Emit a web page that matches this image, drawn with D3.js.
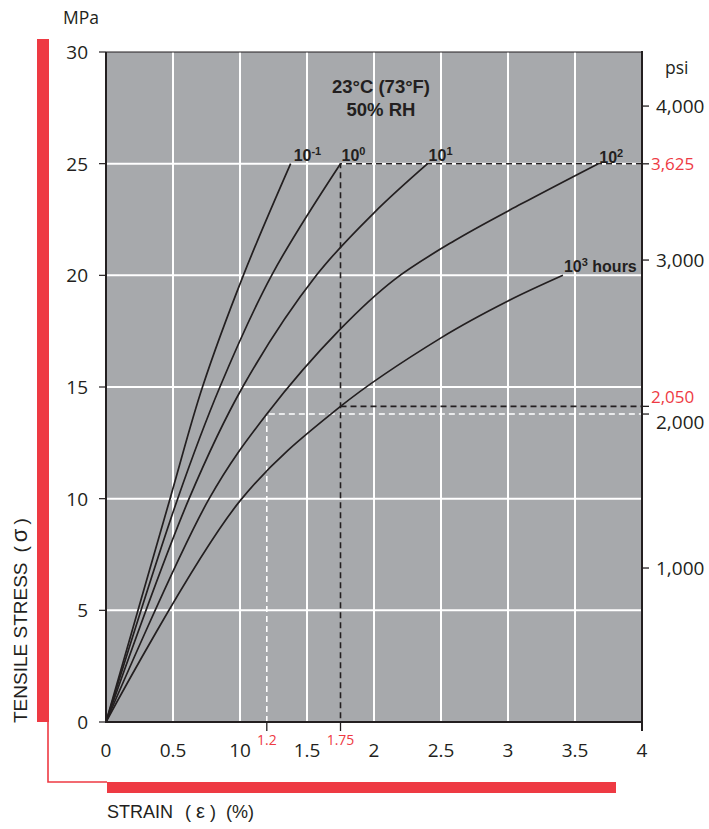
<!DOCTYPE html>
<html>
<head>
<meta charset="utf-8">
<script src="https://cdn.jsdelivr.net/npm/d3@7"></script>
<style>
  html, body { margin: 0; padding: 0; background: #ffffff; }
  svg { display: block; }
</style>
</head>
<body>
<svg id="chart" width="709" height="829"></svg>
<script>
// ---------------- DATA ----------------
const xTicks = [0, 0.5, 1, 1.5, 2, 2.5, 3, 3.5, 4];
const xTickLabels = ["0", "0.5", "10", "1.5", "2", "2.5", "3", "3.5", "4"];
const yTicks = [0, 5, 10, 15, 20, 25, 30];
const psiTicks = [1000, 2000, 3000, 4000];
const psiTickLabels = ["1,000", "2,000", "3,000", "4,000"];
const psiMarks = [3625, 2050];
const psiMarkLabels = ["3,625", "2,050"];
const strainMarks = [1.2, 1.75];
const strainMarkLabels = ["1.2", "1.75"];

// creep curves (strain %, stress MPa)
const strain_1 = [0, 0.478, 0.72, 1.025, 1.378];
const stress_1 = [0, 10, 15, 20, 25];
const strain0 = [0, 0.535, 0.85, 1.236, 1.75];
const stress0 = [0, 10, 15, 20, 25];
const strain1 = [0, 0.62, 1.02, 1.57, 2.0, 2.40];
const stress1 = [0, 10, 15, 20, 22.8, 25];
const strain2 = [0, 0.77, 1.2, 1.75, 2.15, 2.6, 3.1, 3.674];
const stress2 = [0, 10, 13.79, 17.6, 19.8, 21.55, 23.2, 25];
const strain3 = [0, 1.0, 1.75, 2.5, 3.0, 3.41];
const stress3 = [0, 9.9, 14.13, 17.2, 18.85, 20];

const curveLabels = [["10", "-1", ""], ["10", "0", ""], ["10", "1", ""], ["10", "2", ""], ["10", "3", " hours"]];
const titleLines = ["23°C (73°F)", "50% RH"];

// ---------------- CHART ----------------
const MPA_TO_PSI = 145.038;
const svg = d3.select("#chart");
const pL = 106, pR = 642, pT = 52, pB = 722;
const x = d3.scaleLinear().domain([0, 4]).range([pL, pR]);
const y = d3.scaleLinear().domain([0, 30]).range([pB, pT]);
const yPsi = d3.scaleLinear().domain([0, 30 * MPA_TO_PSI]).range([pB, pT]);

const dark = "#231f20";
const red = "#ee3a43";
const tickFont = "'Open Sans', 'Noto Sans', sans-serif";
const boldFont = "'Liberation Sans', Arial, sans-serif";

// red decorative bars
svg.append("rect").attr("x", 37).attr("y", 39).attr("width", 12).attr("height", pB - 39).attr("fill", red);
svg.append("rect").attr("x", 107).attr("y", 782).attr("width", 509).attr("height", 11).attr("fill", red);
svg.append("path").attr("d", "M48,722 V782 H107").attr("fill", "none").attr("stroke", red).attr("stroke-width", 1.6);

// plot background
svg.append("rect").attr("x", pL).attr("y", pT).attr("width", pR - pL).attr("height", pB - pT).attr("fill", "#a7a9ac");

// grid
const g = svg.append("g");
g.selectAll(".vg").data(xTicks.filter(d => d > 0 && d < 4)).enter().append("line")
  .attr("x1", d => x(d)).attr("x2", d => x(d)).attr("y1", pT).attr("y2", pB)
  .attr("stroke", "#ffffff").attr("stroke-width", 2);
g.selectAll(".hg").data(yTicks.filter(d => d > 0 && d < 30)).enter().append("line")
  .attr("x1", pL).attr("x2", pR).attr("y1", d => y(d)).attr("y2", d => y(d))
  .attr("stroke", "#ffffff").attr("stroke-width", 2);

// reference dashed lines
const p25 = y(psiMarks[0] / MPA_TO_PSI);
const p2050 = y(psiMarks[1] / MPA_TO_PSI);
const p2000 = yPsi(2000);
svg.append("path").attr("d", `M${x(strainMarks[0])},${pB} V${p2000} H${pR}`)
  .attr("fill", "none").attr("stroke", "#ffffff").attr("stroke-width", 1.6).attr("stroke-dasharray", "6,4");
svg.append("path").attr("d", `M${pR},${p25} H${x(strainMarks[1])} V${pB}`)
  .attr("fill", "none").attr("stroke", dark).attr("stroke-width", 1.6).attr("stroke-dasharray", "6,4");
svg.append("path").attr("d", `M${x(strainMarks[1])},${p2050} H${pR}`)
  .attr("fill", "none").attr("stroke", dark).attr("stroke-width", 1.6).attr("stroke-dasharray", "6,4");

// curves
const series = [[strain_1, stress_1], [strain0, stress0], [strain1, stress1], [strain2, stress2], [strain3, stress3]];
const line = d3.line().x(d => x(d[0])).y(d => y(d[1])).curve(d3.curveCatmullRom.alpha(0.5));
series.forEach(([sx, sy]) => {
  const pts = sx.map((v, i) => [v, sy[i]]);
  svg.append("path").attr("d", line(pts)).attr("fill", "none").attr("stroke", dark).attr("stroke-width", 1.7);
});

// axes lines
svg.append("line").attr("x1", pL).attr("x2", pR).attr("y1", pT).attr("y2", pT).attr("stroke", dark).attr("stroke-width", 1.2);
svg.append("line").attr("x1", pL).attr("x2", pL).attr("y1", pT).attr("y2", pB + 1).attr("stroke", dark).attr("stroke-width", 2);
svg.append("line").attr("x1", pL - 1).attr("x2", pR + 1).attr("y1", pB).attr("y2", pB).attr("stroke", dark).attr("stroke-width", 2);
svg.append("line").attr("x1", pR).attr("x2", pR).attr("y1", pT - 1).attr("y2", pB + 9).attr("stroke", dark).attr("stroke-width", 2);

// left axis ticks + labels
svg.selectAll(".yt").data(yTicks).enter().append("line")
  .attr("x1", pL - 7).attr("x2", pL).attr("y1", d => y(d)).attr("y2", d => y(d))
  .attr("stroke", dark).attr("stroke-width", 1.2);
svg.selectAll(".yl").data(yTicks).enter().append("text")
  .attr("x", 88).attr("y", d => y(d) + 7).attr("text-anchor", "end")
  .attr("font-family", tickFont).attr("font-size", 19).attr("fill", dark).text(d => d);

// bottom labels
svg.selectAll(".xl").data(xTicks).enter().append("text")
  .attr("x", d => x(d)).attr("y", 757).attr("text-anchor", "middle")
  .attr("font-family", tickFont).attr("font-size", 19).attr("fill", dark).text((d, i) => xTickLabels[i]);
svg.selectAll(".xm").data(strainMarks).enter().append("line")
  .attr("x1", d => x(d)).attr("x2", d => x(d)).attr("y1", pB).attr("y2", pB + 9)
  .attr("stroke", dark).attr("stroke-width", 1.3);
svg.selectAll(".xml").data(strainMarks).enter().append("text")
  .attr("x", d => x(d)).attr("y", 745).attr("text-anchor", "middle")
  .attr("font-family", tickFont).attr("font-size", 14).attr("fill", red).text((d, i) => strainMarkLabels[i]);

// right axis ticks + labels
svg.selectAll(".pt").data(psiTicks.concat(psiMarks)).enter().append("line")
  .attr("x1", pR).attr("x2", pR + 7).attr("y1", d => yPsi(d)).attr("y2", d => yPsi(d))
  .attr("stroke", dark).attr("stroke-width", 1.3);
const psiDy = { 1000: 7, 2000: 15, 3000: 7, 4000: 7 };
svg.selectAll(".pl").data(psiTicks).enter().append("text")
  .attr("x", 656).attr("y", d => yPsi(d) + psiDy[d])
  .attr("font-family", tickFont).attr("font-size", 19).attr("fill", dark).text((d, i) => psiTickLabels[i]);
const markDy = { 3625: 6.5, 2050: -3 };
svg.selectAll(".pml").data(psiMarks).enter().append("text")
  .attr("x", 651).attr("y", d => yPsi(d) + markDy[d])
  .attr("font-family", tickFont).attr("font-size", 17).attr("fill", red).text((d, i) => psiMarkLabels[i]);

// unit labels
svg.append("text").attr("x", 63).attr("y", 24).attr("font-family", tickFont).attr("font-size", 17.5).attr("fill", dark).text("MPa");
svg.append("text").attr("x", 665).attr("y", 74).attr("font-family", tickFont).attr("font-size", 17.5).attr("fill", dark).text("psi");

// title
svg.append("text").attr("x", 381).attr("y", 93).attr("text-anchor", "middle").attr("font-family", boldFont)
  .attr("font-weight", "bold").attr("font-size", 18.5).attr("fill", dark).text(titleLines[0]);
svg.append("text").attr("x", 381).attr("y", 116).attr("text-anchor", "middle").attr("font-family", boldFont)
  .attr("font-weight", "bold").attr("font-size", 18.5).attr("fill", dark).text(titleLines[1]);

// curve labels (placed at curve end points)
const labelOffsets = [[3, -3], [1, -3], [1, -3], [1, -1], [1, -3]];
series.forEach(([sx, sy], i) => {
  const n = sx.length - 1;
  const t = svg.append("text").attr("x", x(sx[n]) + labelOffsets[i][0]).attr("y", y(sy[n]) + labelOffsets[i][1])
    .attr("font-family", boldFont).attr("font-weight", "bold").attr("font-size", 16).attr("fill", dark);
  t.append("tspan").text(curveLabels[i][0]);
  t.append("tspan").attr("dy", -6).attr("font-size", 11).text(curveLabels[i][1]);
  if (curveLabels[i][2]) t.append("tspan").attr("dy", 6).attr("font-size", 16).text(curveLabels[i][2]);
});

// axis titles
const yTitle = svg.append("text").attr("transform", "translate(27,723) rotate(-90)")
  .attr("font-family", boldFont).attr("font-size", 19).attr("fill", dark);
yTitle.append("tspan").text("TENSILE STRESS");
yTitle.append("tspan").attr("dx", 10).text("(");
yTitle.append("tspan").attr("dx", 4).attr("font-size", 22).text("σ");
yTitle.append("tspan").attr("dx", 4).text(")");

const xTitle = svg.append("text").attr("x", 107).attr("y", 818)
  .attr("font-family", boldFont).attr("font-size", 18).attr("fill", dark);
xTitle.append("tspan").text("STRAIN");
xTitle.append("tspan").attr("dx", 12).text("(");
xTitle.append("tspan").attr("dx", 5).attr("font-size", 20).text("ε");
xTitle.append("tspan").attr("dx", 5).text(")");
xTitle.append("tspan").attr("dx", 10).text("(%)");
</script>
</body>
</html>
